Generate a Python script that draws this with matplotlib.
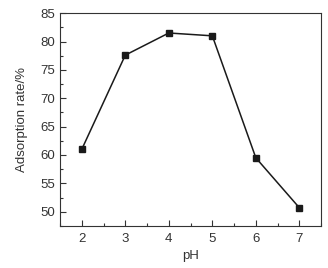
import numpy as np
import matplotlib
matplotlib.use("Agg")
import matplotlib.pyplot as plt
from matplotlib.ticker import MultipleLocator

plt.rcParams['font.family'] = ['Liberation Sans', 'DejaVu Sans']

ph = [2, 3, 4, 5, 6, 7]
adsorption = [61.0, 77.6, 81.5, 81.0, 59.5, 50.7]

fig = plt.figure(figsize=(3.28, 2.68), dpi=100)
ax = fig.add_axes([0.183, 0.157, 0.796, 0.794])

ax.plot(ph, adsorption, color='#1a1a1a', linewidth=1.1, marker='s', markersize=3.8)

ax.set_xlim(1.5, 7.5)
ax.set_ylim(47.5, 85)
ax.xaxis.set_major_locator(MultipleLocator(1))
ax.xaxis.set_minor_locator(MultipleLocator(0.5))
ax.yaxis.set_major_locator(MultipleLocator(5))
ax.yaxis.set_minor_locator(MultipleLocator(2.5))
ax.tick_params(which='both', direction='in', labelsize=9.5, colors='#333333', width=0.8)
ax.tick_params(which='major', length=4)
ax.tick_params(which='minor', length=2)
ax.tick_params(axis='x', pad=5)
for s in ax.spines.values():
    s.set_color('#333333')
    s.set_linewidth(0.8)

ax.set_xlabel('pH', fontsize=9.5, color='#333333', labelpad=4)
ax.set_ylabel('Adsorption rate/%', fontsize=9.5, color='#333333', labelpad=9)

fig.savefig('out.png', dpi=100)
